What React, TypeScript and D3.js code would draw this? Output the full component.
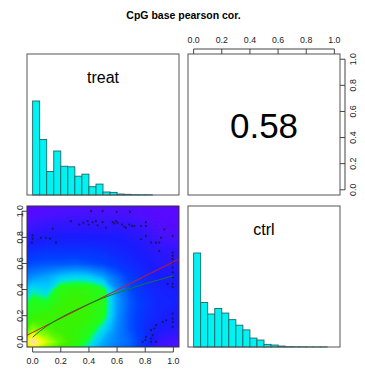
import React from 'react';
import * as d3 from 'd3';

// chart values
const title = 'CpG base pearson cor.';
const varNames = ['treat', 'ctrl'];
const corLabel = '0.58';

const breaks = [0, 0.05, 0.1, 0.15, 0.2, 0.25, 0.3, 0.35, 0.4, 0.45, 0.5, 0.55, 0.6, 0.65, 0.7, 0.75, 0.8, 0.85, 0.9, 0.95, 1.0];
// bar heights relative to the tallest bar
const treatHeights = [1.0, 0.59, 0.25, 0.468, 0.306, 0.3, 0.2, 0.222, 0.088, 0.116, 0.032, 0.028, 0.01, 0.007, 0.003, 0.002, 0.002, 0, 0, 0];
const ctrlHeights = [1.0, 0.474, 0.351, 0.41, 0.361, 0.291, 0.232, 0.182, 0.095, 0.074, 0.028, 0.021, 0.01, 0.004, 0.002, 0.002, 0.001, 0.001, 0.001, 0];

const tickValues = [0, 0.2, 0.4, 0.6, 0.8, 1.0];
const tickLabels = ['0.0', '0.2', '0.4', '0.6', '0.8', '1.0'];

// smoothed density grid (0 = sparse, 1 = densest), rows from y=-0.1 up to y=1.1
const densityX = [-0.1, 0, 0.1, 0.2, 0.3, 0.4, 0.5, 0.6, 0.7, 0.8, 0.9, 1.0, 1.1];
const densityY = [-0.1, 0, 0.1, 0.2, 0.3, 0.4, 0.5, 0.6, 0.7, 0.8, 0.9, 1.0, 1.1];
const densityRows = [
  [0.6, 0.78, 0.7, 0.64, 0.58, 0.5, 0.42, 0.37, 0.32, 0.24, 0.12, 0.1, 0.09],
  [0.74, 1.0, 0.84, 0.74, 0.68, 0.58, 0.46, 0.4, 0.35, 0.26, 0.14, 0.11, 0.1],
  [0.62, 0.78, 0.72, 0.69, 0.68, 0.64, 0.54, 0.41, 0.32, 0.25, 0.2, 0.18, 0.17],
  [0.56, 0.67, 0.69, 0.7, 0.7, 0.68, 0.63, 0.43, 0.32, 0.26, 0.22, 0.2, 0.19],
  [0.52, 0.63, 0.61, 0.68, 0.7, 0.68, 0.64, 0.44, 0.33, 0.27, 0.23, 0.22, 0.21],
  [0.45, 0.55, 0.52, 0.65, 0.67, 0.66, 0.62, 0.42, 0.31, 0.25, 0.22, 0.21, 0.2],
  [0.36, 0.42, 0.45, 0.5, 0.52, 0.51, 0.45, 0.36, 0.28, 0.23, 0.2, 0.19, 0.18],
  [0.27, 0.32, 0.33, 0.33, 0.34, 0.32, 0.3, 0.27, 0.24, 0.21, 0.18, 0.17, 0.16],
  [0.2, 0.25, 0.26, 0.26, 0.26, 0.26, 0.25, 0.23, 0.21, 0.19, 0.16, 0.15, 0.14],
  [0.15, 0.18, 0.2, 0.2, 0.2, 0.2, 0.2, 0.2, 0.18, 0.16, 0.12, 0.1, 0.1],
  [0.1, 0.12, 0.14, 0.15, 0.15, 0.15, 0.15, 0.15, 0.14, 0.12, 0.08, 0.06, 0.05],
  [0.05, 0.06, 0.08, 0.09, 0.1, 0.1, 0.1, 0.1, 0.09, 0.07, 0.05, 0.05, 0.04],
  [0.04, 0.05, 0.06, 0.07, 0.08, 0.08, 0.08, 0.08, 0.07, 0.06, 0.05, 0.04, 0.04],
];
const rampStops = [0, 0.1, 0.2, 0.3, 0.4, 0.5, 0.56, 0.6, 0.7, 0.78, 0.86, 0.94, 1.0];
const rampColors = ['#6a00ff', '#4a10ff', '#1a1aff', '#0040ff', '#0080ff', '#00c8ff', '#00e8d0', '#18ff28', '#3cf200', '#80ff00', '#e8ff00', '#fff060', '#ffd8b8'];

// outlying points shown by smoothScatter
const pointsX = [0.415, 0.497, 0.597, 0.692, 0.272, 0.332, 0.36, 0.391, 0.398, 0.426, 0.45, 0.462, 0.497, 0.521, 0.569, 0.58, 0.592, 0.604, 0.635, 0.652, 0.663, 0.687, 0.706, 0.723, 0.77, 0.805, 0.805,
  0.142, 0.123, 0.095, 0.0, 0.0, 0.059, -0.005, 0.166, 0.841, 0.77, 0.805, 0.912, 0.9, 0.936, 0.9, 0.877,
  0.995, 0.995, 0.995, 0.995, 0.995, 0.995, 0.995, 0.995, 0.995, 0.995, 0.96, 0.995, 0.995, 0.995, 0.995,
  0.948, 0.924, 0.877, 0.865, 0.841, 0.853, 0.841, 0.805, 0.801, 0.841, 0.782, 0.877];
const pointsY = [1.0, 1.0, 0.995, 0.995, 0.924, 0.898, 0.911, 0.924, 0.898, 0.916, 0.924, 0.891, 0.916, 0.873, 0.916, 0.906, 0.924, 0.911, 0.898, 0.881, 0.873, 0.898, 0.886, 0.886, 0.886, 0.916, 0.886,
  0.866, 0.79, 0.797, 0.815, 0.79, 0.797, 0.759, 0.759, 0.759, 0.785, 0.81, 0.797, 0.759, 0.861, 0.696, 0.759,
  0.81, 0.683, 0.658, 0.633, 0.607, 0.569, 0.531, 0.494, 0.443, 0.418, 0.443, 0.215, 0.177, 0.152, 0.114,
  0.165, 0.152, 0.127, 0.101, 0.089, 0.051, 0.025, 0.038, 0.013, 0.0, 0.0, 0.0];

const lmIntercept = 0.072;
const lmSlope = 0.54;
const lowessX = [0, 0.05, 0.1, 0.2, 0.3, 0.4, 0.5, 0.6, 0.7, 0.8, 0.9, 1.0];
const lowessY = [0.035, 0.08, 0.12, 0.185, 0.24, 0.29, 0.335, 0.375, 0.41, 0.445, 0.475, 0.505];

const font = 'Liberation Sans, Arial, sans-serif';
const boxColor = '#555';

const cols = [[27, 179], [188, 340]];
const rows = [[54, 195], [206, 347]];

function Hist({ col, row, heights, label }: { col: number[]; row: number[]; heights: number[]; label: string }) {
  const x = d3.scaleLinear().domain([-0.04, 1.04]).range(col);
  const y = d3.scaleLinear().domain([0, 1.5]).range([row[1], row[0]]);
  return (
    <g>
      {heights.map((h, i) => (
        <rect key={i} x={x(breaks[i])} width={x(breaks[i + 1]) - x(breaks[i])}
          y={y(h)} height={y(0) - y(h)} fill="#00f2f2" stroke="#1f6767" strokeWidth={0.9} />
      ))}
      <text x={(col[0] + col[1]) / 2} y={row[0] + 28.5} textAnchor="middle" fontSize={16} fontFamily={font}>{label}</text>
      <rect x={col[0]} y={row[0]} width={col[1] - col[0]} height={row[1] - row[0]} fill="none" stroke={boxColor} />
    </g>
  );
}

export default function App() {
  const sx = d3.scaleLinear().domain([-0.04, 1.04]).range(cols[0]);
  const sy = d3.scaleLinear().domain([-0.04, 1.04]).range([rows[1][1], rows[1][0]]);
  const tx = d3.scaleLinear().domain([-0.04, 1.04]).range(cols[1]);
  const ty = d3.scaleLinear().domain([-0.04, 1.04]).range([rows[0][1], rows[0][0]]);

  const n = densityX.length, m = densityY.length;
  const values = densityRows.flat();
  const levels = d3.range(0, 1, 0.01);
  const contours = d3.contours().size([n, m]).thresholds(levels)(values);
  const gx = d3.scaleLinear().domain([0.5, n - 0.5]).range([sx(densityX[0]), sx(densityX[n - 1])]);
  const gy = d3.scaleLinear().domain([0.5, m - 0.5]).range([sy(densityY[0]), sy(densityY[m - 1])]);
  const proj = d3.geoTransform({
    point(px: number, py: number) { (this as any).stream.point(gx(px), gy(py)); },
  });
  const path = d3.geoPath(proj);
  const ramp = d3.scaleLinear<string>().domain(rampStops).range(rampColors).interpolate(d3.interpolateRgb).clamp(true);

  const lmLine = d3.line<number>().x(d => sx(d)).y(d => sy(lmIntercept + lmSlope * d));
  const lowLine = d3.line<number>().x(d => sx(d)).y((d, i) => sy(lowessY[i])).curve(d3.curveMonotoneX);

  const tickStyle = { fontSize: 8.8, fontFamily: font, fill: '#222' };

  return (
    <svg width={365} height={373} style={{ position: 'absolute', left: 0, top: 0, background: '#fff' }}>
      <text x={183.5} y={18.5} textAnchor="middle" fontWeight="bold" fontSize={10.5} fontFamily={font}>{title}</text>

      <Hist col={cols[0]} row={rows[0]} heights={treatHeights} label={varNames[0]} />
      <Hist col={cols[1]} row={rows[1]} heights={ctrlHeights} label={varNames[1]} />

      {/* correlation panel */}
      <text x={264} y={137.5} textAnchor="middle" fontSize={35} fontFamily={font}>{corLabel}</text>
      <rect x={cols[1][0]} y={rows[0][0]} width={cols[1][1] - cols[1][0]} height={rows[0][1] - rows[0][0]} fill="none" stroke={boxColor} />
      <line x1={tx(0)} x2={tx(1)} y1={rows[0][0] - 5} y2={rows[0][0] - 5} stroke="#444" />
      {tickValues.map((t, i) => (
        <g key={'tt' + i}>
          <line x1={tx(t)} x2={tx(t)} y1={rows[0][0] - 5} y2={rows[0][0]} stroke="#444" />
          <text x={tx(t)} y={42.5} textAnchor="middle" {...tickStyle}>{tickLabels[i]}</text>
        </g>
      ))}
      <line x1={cols[1][1] + 5} x2={cols[1][1] + 5} y1={ty(0)} y2={ty(1)} stroke="#444" />
      {tickValues.map((t, i) => (
        <g key={'rt' + i}>
          <line x1={cols[1][1]} x2={cols[1][1] + 5} y1={ty(t)} y2={ty(t)} stroke="#444" />
          <text transform={`translate(356,${ty(t)}) rotate(-90)`} textAnchor="middle" {...tickStyle}>{tickLabels[i]}</text>
        </g>
      ))}

      {/* smooth scatter panel */}
      <defs>
        <clipPath id="scClip">
          <rect x={cols[0][0]} y={rows[1][0]} width={cols[0][1] - cols[0][0]} height={rows[1][1] - rows[1][0]} />
        </clipPath>
      </defs>
      <g clipPath="url(#scClip)">
        {contours.map((c, i) => (
          <path key={i} d={path(c as any) || ''} fill={ramp(c.value + 0.005)} />
        ))}
        {pointsX.map((px, i) => (
          <circle key={i} cx={sx(px)} cy={sy(pointsY[i])} r={1.1} fill="#141432" opacity={0.75} />
        ))}
        <path d={lmLine([-0.04, 1.04]) || ''} fill="none" stroke="#d41a1a" strokeWidth={1} />
        <path d={lowLine(lowessX) || ''} fill="none" stroke="#137a2e" strokeWidth={1} />
      </g>
      <rect x={cols[0][0]} y={rows[1][0]} width={cols[0][1] - cols[0][0]} height={rows[1][1] - rows[1][0]} fill="none" stroke="#333" />
      <line x1={sx(0)} x2={sx(1)} y1={rows[1][1] + 5} y2={rows[1][1] + 5} stroke="#444" />
      {tickValues.map((t, i) => (
        <g key={'bt' + i}>
          <line x1={sx(t)} x2={sx(t)} y1={rows[1][1]} y2={rows[1][1] + 5} stroke="#444" />
          <text x={sx(t)} y={363.5} textAnchor="middle" {...tickStyle}>{tickLabels[i]}</text>
        </g>
      ))}
      <line x1={cols[0][0] - 5} x2={cols[0][0] - 5} y1={sy(0)} y2={sy(1)} stroke="#444" />
      {tickValues.map((t, i) => (
        <g key={'lt' + i}>
          <line x1={cols[0][0] - 5} x2={cols[0][0]} y1={sy(t)} y2={sy(t)} stroke="#444" />
          <text transform={`translate(22.5,${sy(t)}) rotate(-90)`} textAnchor="middle" {...tickStyle}>{tickLabels[i]}</text>
        </g>
      ))}
    </svg>
  );
}
